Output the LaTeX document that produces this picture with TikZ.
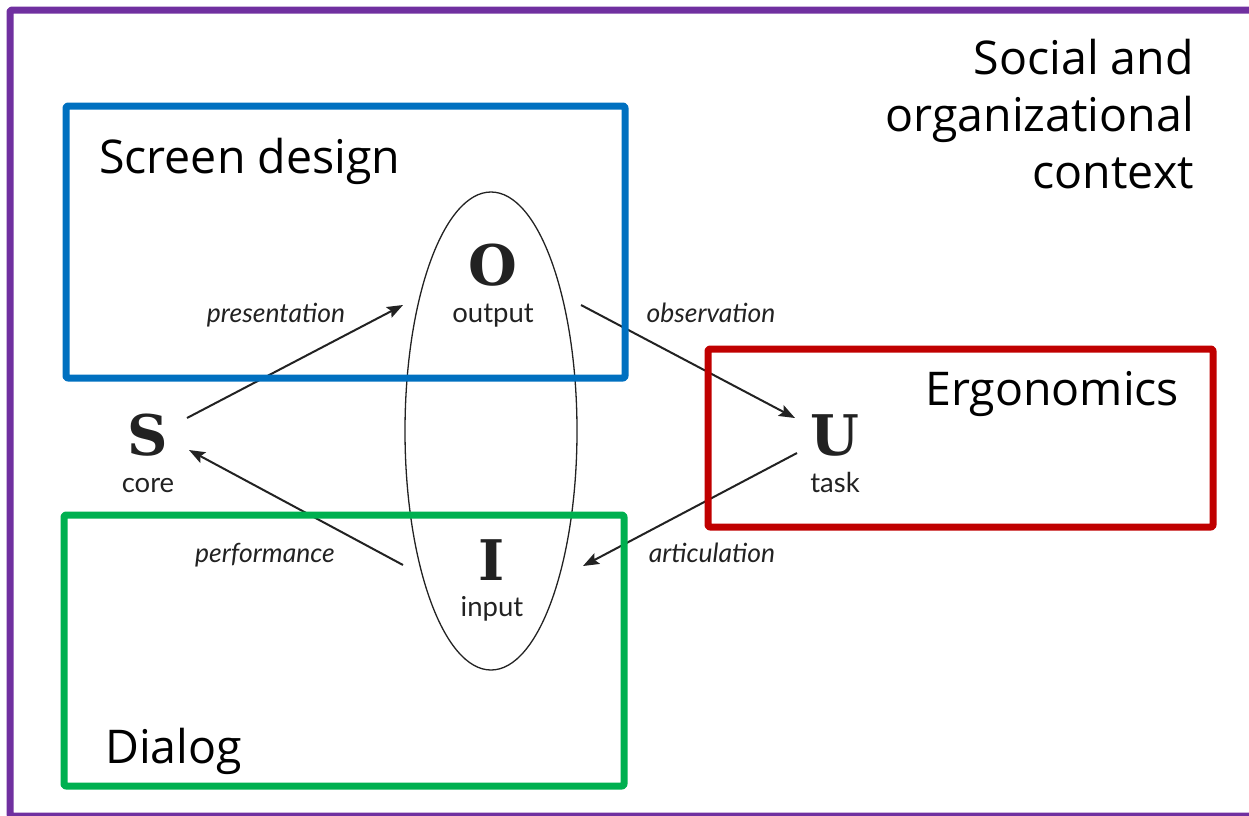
\documentclass[tikz,border=0pt]{standalone}
\usepackage{fontspec}
\setmainfont{Open Sans}
\newfontfamily\labfont{Lato}
\newfontfamily\letfont{DejaVu Serif}
\usetikzlibrary{arrows.meta}
\definecolor{cpurple}{HTML}{7030A0}
\definecolor{cblue}{HTML}{0070C0}
\definecolor{cred}{HTML}{C00000}
\definecolor{cgreen}{HTML}{00B050}
\definecolor{ink}{HTML}{222222}
\begin{document}
\begin{tikzpicture}[x=1pt,y=-1pt,
  frame/.style={line width=7pt, line join=round, rounded corners=2pt},
  bigtext/.style={font=\fontsize{46.5}{57}\selectfont, inner sep=0pt, text=black},
  letter/.style={font=\letfont\bfseries\fontsize{56}{56}\selectfont, text=ink, inner sep=0pt, anchor=base},
  sub/.style={font=\labfont\fontsize{27.5}{27.5}\selectfont, text=ink, inner sep=0pt, anchor=base},
  rel/.style={font=\labfont\itshape\fontsize{26.5}{26.5}\selectfont, text=ink, inner sep=0pt, anchor=base},
  arr/.style={line width=2pt, draw=ink, -{Stealth[length=16pt,width=12pt,inset=3pt]}}]
\useasboundingbox (0,0) rectangle (1249,815);
\clip (0,0) rectangle (1249,815);
% outer frame
\draw[frame, draw=cpurple] (10,10) rectangle (1300,816);
% ellipse
\draw[line width=1.3pt, draw=ink] (491,431) ellipse [x radius=86pt, y radius=239pt];
% letters
\node[letter] (S) at (148,455) {S};
\node[sub] (core) at (148,492) {core};
\node[letter] (O) at (493,285) {O};
\node[sub] (output) at (493,322) {output};
\node[letter] (U) at (835,455) {U};
\node[sub] (task) at (835,492) {task};
\node[letter] (I) at (492,580) {I};
\node[sub] (input) at (492,616) {input};
% arrow ends
\coordinate (So) at (187,418);
\coordinate (Oi) at (403,305);
\coordinate (Oo) at (581,305);
\coordinate (Ui) at (795,418);
\coordinate (Uo) at (797,453);
\coordinate (Ii) at (583,566);
\coordinate (Io) at (403,565);
\coordinate (Si) at (189,450);
\draw[arr] (So) -- (Oi);
\draw[arr] (Oo) -- (Ui);
\draw[arr] (Uo) -- (Ii);
\draw[arr] (Io) -- (Si);
\node[rel] (pres) at (276,322) {presentation};
\node[rel] (obs) at (711,322) {observation};
\node[rel] (perf) at (265,562) {performance};
\node[rel] (art) at (712,562) {articulation};
% coloured boxes
\draw[frame, draw=cblue] (66,106) rectangle (625,378);
\draw[frame, draw=cgreen] (64,515) rectangle (624,786);
\draw[frame, draw=cred] (708,349) rectangle (1213,527);
% big labels
\node[bigtext, anchor=base west] (sd) at (99,173) {Screen design};
\node[bigtext, anchor=base west] (erg) at (925,405) {Ergonomics};
\node[bigtext, anchor=base west] (dlg) at (105,763) {Dialog};
\node[bigtext, anchor=north east, align=right] (soc) at (1194,39) {Social and\\organizational\\context};
\end{tikzpicture}
\end{document}
